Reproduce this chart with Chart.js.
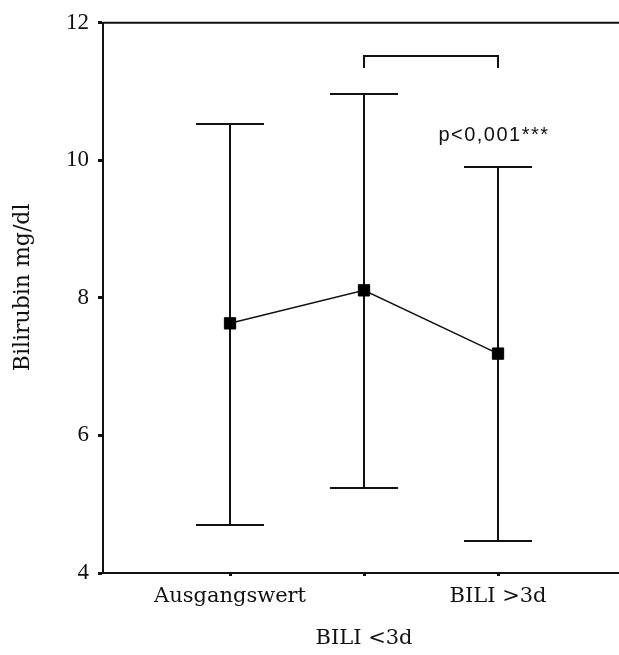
<!DOCTYPE html>
<html>
<head>
<meta charset="utf-8">
<script src="https://cdn.jsdelivr.net/npm/chart.js@4.4.0/dist/chart.umd.min.js"></script>
<style>
  html, body { margin: 0; padding: 0; background: #fff; }
</style>
</head>
<body>
<canvas id="chart" width="619" height="655"></canvas>
<script>
// values (mean with error bar limits)
var categories = ['Ausgangswert', 'BILI <3d', 'BILI >3d'];
var means = [7.63, 8.11, 7.19];
var lowerCI = [4.70, 5.24, 4.46];
var upperCI = [10.53, 10.96, 9.91];
var yTicks = [4, 6, 8, 10, 12];
var pLabel = 'p<0,001***';
var bracketLevel = 11.52;
var bracketDrop = 11.35;
var pLabelLevel = 10.36;

var ink = '#111';

var extras = {
  id: 'extras',
  beforeDatasetsDraw: function (chart) {
    var ctx = chart.ctx, xs = chart.scales.x, ys = chart.scales.y;
    var area = chart.chartArea;
    ctx.save();
    ctx.strokeStyle = ink;
    ctx.lineWidth = 2;

    // error bars
    categories.forEach(function (c, i) {
      var x = Math.round(xs.getPixelForValue(i + 1));
      var top = Math.round(ys.getPixelForValue(upperCI[i]));
      var bot = Math.round(ys.getPixelForValue(lowerCI[i]));
      ctx.beginPath();
      ctx.moveTo(x, top); ctx.lineTo(x, bot);
      ctx.moveTo(x - 34, top); ctx.lineTo(x + 34, top);
      ctx.moveTo(x - 34, bot); ctx.lineTo(x + 34, bot);
      ctx.stroke();
    });

    // top frame line
    ctx.beginPath();
    ctx.moveTo(area.left, area.top);
    ctx.lineTo(area.right, area.top);
    ctx.stroke();

    // significance bracket between 2nd and 3rd group
    var bx1 = Math.round(xs.getPixelForValue(2));
    var bx2 = Math.round(xs.getPixelForValue(3));
    var by = Math.round(ys.getPixelForValue(bracketLevel));
    var bd = Math.round(ys.getPixelForValue(bracketDrop));
    ctx.beginPath();
    ctx.moveTo(bx1, bd); ctx.lineTo(bx1, by); ctx.lineTo(bx2, by); ctx.lineTo(bx2, bd);
    ctx.stroke();

    // p value
    ctx.fillStyle = ink;
    ctx.font = '20px "Liberation Sans", Arial, sans-serif';
    ctx.letterSpacing = '1.5px';
    ctx.textAlign = 'center';
    ctx.textBaseline = 'middle';
    ctx.fillText(pLabel, xs.getPixelForValue(2.97), ys.getPixelForValue(pLabelLevel));
    ctx.restore();
  }
};

new Chart(document.getElementById('chart'), {
  type: 'line',
  data: {
    datasets: [{
      data: means.map(function (m, i) { return { x: i + 1, y: m }; }),
      borderColor: ink,
      borderWidth: 1.5,
      tension: 0,
      pointStyle: 'rect',
      pointRadius: 8,
      pointBackgroundColor: '#000',
      pointBorderColor: '#000',
      pointBorderWidth: 1
    }]
  },
  options: {
    responsive: false,
    animation: false,
    layout: { autoPadding: false, padding: { top: 22, left: 0, right: 0, bottom: 0 } },
    plugins: { legend: { display: false }, tooltip: { enabled: false } },
    scales: {
      x: {
        type: 'linear',
        min: 0.052,
        max: 3.903,
        afterBuildTicks: function (scale) {
          scale.ticks = categories.map(function (c, i) { return { value: i + 1 }; });
        },
        afterFit: function (scale) { scale.height = 82; },
        grid: { drawOnChartArea: false, tickLength: 3, tickWidth: 3, tickColor: ink },
        border: { color: ink, width: 2 },
        ticks: {
          autoSkip: false,
          minRotation: 0,
          maxRotation: 0,
          padding: 0,
          color: ink,
          font: { family: '"DejaVu Serif", serif', size: 21, lineHeight: '42px' },
          callback: function (v) {
            var i = Math.round(v) - 1;
            return i === 1 ? ['', categories[i]] : categories[i];
          }
        }
      },
      y: {
        min: yTicks[0],
        max: yTicks[yTicks.length - 1],
        afterBuildTicks: function (scale) {
          scale.ticks = yTicks.map(function (v) { return { value: v }; });
        },
        afterFit: function (scale) { scale.width = 103; },
        grid: { drawOnChartArea: false, tickLength: 5, tickWidth: 3, tickColor: ink },
        border: { color: ink, width: 2 },
        ticks: {
          padding: 9,
          color: ink,
          font: { family: '"Liberation Serif", serif', size: 23 }
        },
        title: {
          display: true,
          text: '   Bilirubin mg/dl',
          color: ink,
          padding: { top: 10, bottom: 0 },
          font: { family: '"DejaVu Serif", serif', size: 22 }
        }
      }
    }
  },
  plugins: [extras]
});
</script>
</body>
</html>
